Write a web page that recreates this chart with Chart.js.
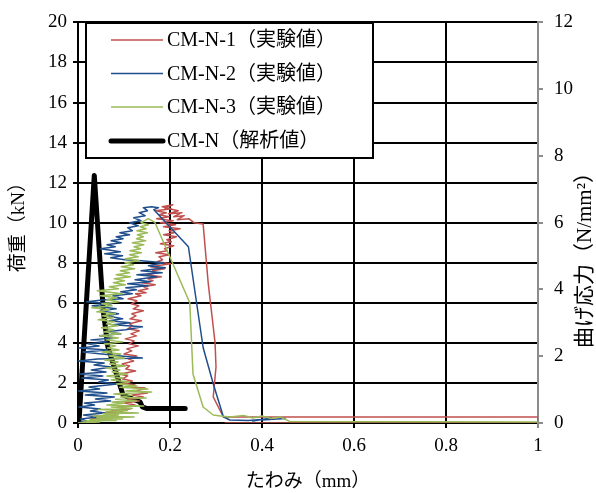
<!DOCTYPE html>
<html>
<head>
<meta charset="utf-8">
<script src="https://cdn.jsdelivr.net/npm/chart.js@4.4.1/dist/chart.umd.min.js"></script>
<style>
  html, body { margin: 0; padding: 0; background: #fff; }
</style>
</head>
<body>
<canvas id="chart" width="596" height="493"></canvas>
<script>
// 実験値・解析値 (たわみ mm, 荷重 kN)
const n1X = [0, 0.022, 0.043, 0.028, 0.061, 0.037, 0.083, 0.058, 0.097, 0.072, 0.113, 0.087, 0.124, 0.101, 0.133, 0.108, 0.142, 0.118, 0.151, 0.127, 0.146, 0.112, 0.124, 0.098,
  0.118, 0.097, 0.108, 0.092, 0.125, 0.104, 0.112, 0.096, 0.121, 0.109, 0.128, 0.1, 0.117, 0.106, 0.131, 0.111, 0.122, 0.103, 0.127, 0.115, 0.133, 0.108, 0.119, 0.112, 0.138, 0.113, 0.126, 0.117, 0.142, 0.12, 0.132, 0.116, 0.128, 0.109, 0.137, 0.125,
  0.148, 0.131, 0.152, 0.143, 0.168, 0.139, 0.163, 0.152, 0.181, 0.149, 0.171, 0.162, 0.188, 0.158, 0.201, 0.172, 0.184, 0.176, 0.199, 0.169, 0.194, 0.188, 0.208, 0.179, 0.203, 0.193, 0.214, 0.186, 0.209, 0.198, 0.222,
  0.186, 0.212, 0.179, 0.207, 0.171, 0.198, 0.176, 0.192, 0.169, 0.203, 0.183, 0.206, 0.188, 0.218, 0.197, 0.226, 0.208, 0.231, 0.216, 0.241, 0.252, 0.272,
  0.283, 0.298, 0.3, 0.294, 0.305, 0.316, 0.4, 1, 1, 0.32];
const n1Y = [0, 0.05, 0.1, 0.2, 0.25, 0.35, 0.4, 0.5, 0.55, 0.65, 0.7, 0.8, 0.9, 1.0, 1.1, 1.2, 1.3, 1.4, 1.5, 1.6, 1.75, 1.8, 1.9, 2.0,
  2.1, 2.2, 2.35, 2.45, 2.6, 2.7, 2.85, 2.95, 3.1, 3.2, 3.35, 3.45, 3.6, 3.7, 3.85, 3.95, 4.1, 4.2, 4.35, 4.45, 4.6, 4.7, 4.85, 4.95, 5.1, 5.2, 5.35, 5.45, 5.6, 5.7, 5.85, 5.95, 6.1, 6.2, 6.35, 6.45,
  6.5, 6.6, 6.7, 6.8, 6.9, 7.0, 7.1, 7.2, 7.3, 7.4, 7.5, 7.6, 7.7, 7.8, 7.95, 8.05, 8.15, 8.3, 8.4, 8.5, 8.6, 8.7, 8.85, 8.95, 9.05, 9.15, 9.3, 9.4, 9.5, 9.6, 9.7,
  9.8, 9.9, 10.0, 10.1, 10.2, 10.3, 10.4, 10.5, 10.6, 10.7, 10.8, 10.9, 10.75, 10.6, 10.45, 10.5, 10.3, 10.35, 10.15, 10.2, 10.0, 9.94,
  7.0, 4.0, 2.8, 1.3, 0.8, 0.3, 0.3, 0.3, 0, 0];

const n2X = [0, 0.018, 0.006, 0.043, 0.012, 0.058, 0.027, 0.049, 0.002, 0.036, 0.014, 0.071, 0.038, 0.079, 0.016, 0.063, 0.001, 0.047, 0.024, 0.085, 0.045, 0.066, 0.008, 0.054, 0.003, 0.061, 0.029, 0.073, 0.035, 0.057, 0.001, 0.042, 0.14, 0.094, 0.052, 0.011, 0.064, 0.002, 0.046, 0.022,
  0.063, 0.028, 0.082, 0.047, 0.093, 0.058, 0.104, 0.14, 0.076, 0.113, 0.068, 0.097, 0.062, 0.088, 0.049, 0.083, 0.031, 0.072, 0.019, 0.058,
  0.098, 0.076, 0.118, 0.093, 0.127, 0.104, 0.152, 0.108, 0.158, 0.124, 0.171, 0.128, 0.183, 0.137, 0.19, 0.153, 0.186, 0.138, 0.102, 0.071, 0.097, 0.058, 0.092, 0.049, 0.081, 0.063, 0.094, 0.072, 0.098, 0.083, 0.112, 0.091, 0.118, 0.108, 0.131, 0.112, 0.137, 0.121, 0.146, 0.133, 0.151, 0.142, 0.16, 0.175, 0.165,
  0.24, 0.272, 0.294, 0.316, 0.33, 0.37, 0.4, 0.38, 0.42, 0.4, 0.45];
const n2Y = [0, 0.1, 0.2, 0.3, 0.4, 0.5, 0.6, 0.7, 0.8, 0.9, 1.0, 1.1, 1.2, 1.3, 1.4, 1.5, 1.6, 1.7, 1.8, 1.95, 2.05, 2.15, 2.25, 2.35, 2.45, 2.55, 2.65, 2.8, 2.9, 3.0, 3.1, 3.2, 3.25, 3.35, 3.45, 3.55, 3.65, 3.75, 3.85, 3.95,
  4.05, 4.15, 4.25, 4.35, 4.45, 4.55, 4.65, 4.8, 4.9, 5.0, 5.1, 5.2, 5.35, 5.45, 5.6, 5.7, 5.85, 5.95, 6.05, 6.15,
  6.2, 6.35, 6.45, 6.55, 6.65, 6.75, 6.85, 6.95, 7.05, 7.15, 7.3, 7.4, 7.5, 7.6, 7.75, 7.85, 8.0, 8.1, 8.15, 8.25, 8.35, 8.45, 8.55, 8.7, 8.8, 8.9, 9.0, 9.1, 9.2, 9.3, 9.4, 9.5, 9.6, 9.75, 9.85, 10.0, 10.1, 10.25, 10.35, 10.5, 10.6, 10.75, 10.8, 10.75, 10.65,
  8.8, 3.77, 1.96, 0.31, 0.15, 0.12, 0.18, 0.1, 0.25, 0.15, 0.22];

const n3X = [0, 0.047, 0.012, 0.083, 0.026, 0.097, 0.041, 0.122, 0.033, 0.088, 0.054, 0.131, 0.061, 0.107, 0.044, 0.118, 0.072, 0.143, 0.063, 0.101, 0.074, 0.127, 0.082, 0.148, 0.093, 0.117, 0.078, 0.16, 0.104, 0.152, 0.091, 0.128, 0.084, 0.112,
  0.072, 0.098, 0.063, 0.108, 0.074, 0.091, 0.061, 0.103, 0.069, 0.087, 0.058, 0.101, 0.067, 0.093, 0.052, 0.089, 0.064, 0.082, 0.057, 0.097, 0.061, 0.088, 0.048, 0.092, 0.056, 0.078, 0.051, 0.087, 0.062, 0.079, 0.044, 0.077, 0.053, 0.081, 0.041, 0.068, 0.03, 0.074, 0.052, 0.089, 0.063, 0.084, 0.048, 0.096,
  0.042, 0.088, 0.068, 0.103, 0.077, 0.101, 0.079, 0.114, 0.083, 0.112, 0.092, 0.123, 0.094, 0.121, 0.102, 0.133, 0.103, 0.131, 0.112, 0.138, 0.113, 0.136, 0.122, 0.143, 0.118, 0.147, 0.127, 0.142, 0.129, 0.151, 0.128, 0.148, 0.135, 0.153, 0.137, 0.153, 0.167,
  0.243, 0.25, 0.272, 0.294, 0.31, 0.33, 0.36, 0.38, 0.4, 0.42, 0.44, 0.46, 1];
const n3Y = [0, 0.05, 0.1, 0.12, 0.18, 0.2, 0.26, 0.3, 0.35, 0.4, 0.46, 0.5, 0.56, 0.62, 0.68, 0.72, 0.8, 0.85, 0.9, 0.98, 1.05, 1.1, 1.18, 1.25, 1.3, 1.38, 1.45, 1.55, 1.6, 1.7, 1.78, 1.85, 1.95, 2.05,
  2.15, 2.25, 2.35, 2.45, 2.55, 2.65, 2.75, 2.85, 2.95, 3.05, 3.15, 3.25, 3.35, 3.45, 3.55, 3.65, 3.75, 3.85, 3.95, 4.05, 4.15, 4.25, 4.35, 4.45, 4.55, 4.65, 4.75, 4.85, 4.95, 5.05, 5.15, 5.25, 5.35, 5.45, 5.55, 5.65, 5.75, 5.85, 5.95, 6.05, 6.15, 6.25, 6.35, 6.45,
  6.6, 6.7, 6.8, 6.9, 7.0, 7.1, 7.2, 7.3, 7.4, 7.5, 7.6, 7.7, 7.8, 7.9, 8.0, 8.1, 8.2, 8.3, 8.4, 8.5, 8.6, 8.7, 8.8, 8.9, 9.0, 9.1, 9.2, 9.3, 9.4, 9.5, 9.6, 9.7, 9.8, 9.9, 10.0, 10.2, 10.02,
  6.0, 2.45, 0.8, 0.4, 0.35, 0.3, 0.38, 0.25, 0.35, 0.22, 0.3, 0.08, 0.05];

const anaX = [0.002, 0.0354, 0.055, 0.065, 0.098, 0.108, 0.135, 0.14, 0.15, 0.233];
const anaY = [0, 12.36, 5.6, 3.8, 1.4, 1.3, 1.05, 0.8, 0.72, 0.72];

const xTicks = [0, 0.2, 0.4, 0.6, 0.8, 1];

const FONT = '"Liberation Serif", "Noto Sans CJK JP", serif';
const toPoints = (xs, ys) => xs.map((x, i) => ({ x, y: ys[i] }));

const series = [
  { label: "CM-N-1（実験値）", xs: n1X, ys: n1Y, color: "#c0504d", width: 1.5, order: 2 },
  { label: "CM-N-2（実験値）", xs: n2X, ys: n2Y, color: "#1f4e8c", width: 1.5, order: 1 },
  { label: "CM-N-3（実験値）", xs: n3X, ys: n3Y, color: "#9bbb59", width: 1.5, order: 0 },
  { label: "CM-N（解析値）", xs: anaX, ys: anaY, color: "#000000", width: 5, order: 3 },
];

// 凡例と右軸タイトルは手描き
const overlay = {
  id: "overlay",
  afterDraw(chart) {
    const ctx = chart.ctx;
    ctx.save();
    ctx.fillStyle = "#fff";
    ctx.fillRect(86, 23, 287, 135);
    ctx.strokeStyle = "#000";
    ctx.lineWidth = 2;
    ctx.strokeRect(86, 23, 287, 135);
    const rows = [40, 73.5, 107, 141];
    ctx.font = "20px " + FONT;
    ctx.textBaseline = "middle";
    ctx.textAlign = "left";
    series.forEach((s, i) => {
      ctx.beginPath();
      ctx.lineCap = s.width > 2 ? "round" : "butt";
      ctx.lineWidth = s.width;
      ctx.strokeStyle = s.color;
      ctx.moveTo(111, rows[i]);
      ctx.lineTo(163, rows[i]);
      ctx.stroke();
      ctx.fillStyle = "#000";
      ctx.fillText(s.label, 167, rows[i] + 1);
    });
    // 右軸タイトル
    ctx.font = "21px " + FONT;
    ctx.translate(585, 255);
    ctx.rotate(-Math.PI / 2);
    ctx.textAlign = "center";
    ctx.fillText("曲げ応力（N/mm²）", 0, 0);
    ctx.restore();
  },
};

new Chart(document.getElementById("chart"), {
  type: "line",
  data: {
    datasets: series.map((s) => ({
      label: s.label,
      data: toPoints(s.xs, s.ys),
      borderColor: s.color,
      borderWidth: s.width,
      pointRadius: 0,
      fill: false,
      tension: 0,
      borderCapStyle: "round",
      borderJoinStyle: "round",
      order: s.order,
      yAxisID: "y",
    })),
  },
  options: {
    responsive: false,
    animation: false,
    devicePixelRatio: 1,
    layout: { padding: { top: 18, left: 0, right: 0, bottom: 0 } },
    plugins: { legend: { display: false }, tooltip: { enabled: false } },
    scales: {
      x: {
        type: "linear",
        min: 0,
        max: 1,
        afterBuildTicks: (s) => { s.ticks = xTicks.map((v) => ({ value: v })); },
        afterFit: (s) => { s.height = 70; },
        ticks: {
          color: "#000",
          padding: 7,
          maxRotation: 0,
          font: { family: FONT, size: 19 },
          callback: (v) => String(Number(v.toFixed(2))),
        },
        grid: {
          color: (c) => (c.tick && c.tick.value === 1 ? "#8c8c8c" : "#000"),
          lineWidth: 2,
          tickLength: 5,
        },
        border: { color: "#000", width: 2 },
        title: {
          display: true,
          text: "たわみ（mm）",
          color: "#000",
          font: { family: FONT, size: 19 },
          padding: { top: 0, bottom: 0 },
        },
      },
      y: {
        position: "left",
        min: 0,
        max: 20,
        afterFit: (s) => { s.width = 78; },
        ticks: {
          stepSize: 2,
          color: "#000",
          padding: 6,
          font: { family: FONT, size: 19 },
        },
        grid: { color: "#000", lineWidth: 2, tickLength: 5 },
        border: { color: "#000", width: 2 },
        title: {
          display: true,
          text: "荷重（kN）",
          color: "#000",
          font: { family: FONT, size: 19 },
          padding: { top: 8, bottom: 0 },
        },
      },
      y1: {
        position: "right",
        min: 0,
        max: 12,
        afterFit: (s) => { s.width = 58; },
        ticks: {
          stepSize: 2,
          color: "#000",
          padding: 11,
          font: { family: FONT, size: 19 },
        },
        grid: { drawOnChartArea: false, color: "#8c8c8c", lineWidth: 2, tickLength: 5 },
        border: { color: "#8c8c8c", width: 2 },
      },
    },
  },
  plugins: [overlay],
});
</script>
</body>
</html>
